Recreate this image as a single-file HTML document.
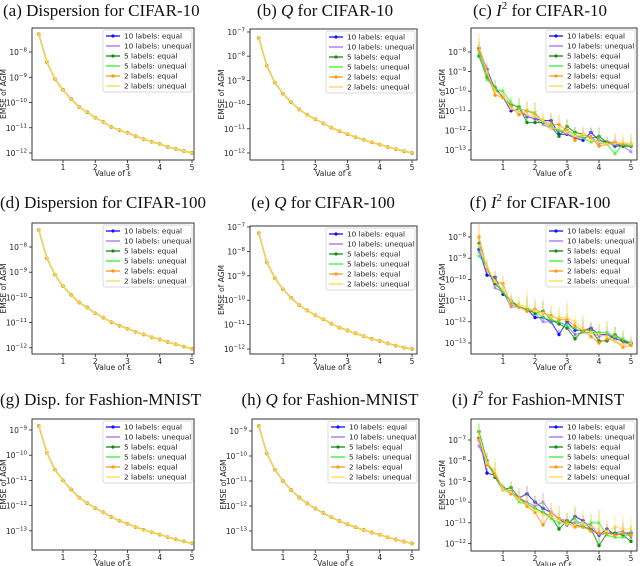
<!DOCTYPE html>
<html><head><meta charset="utf-8">
<style>
html,body{margin:0;padding:0;background:#fff;}
svg{display:block;}
.t{font-family:"Liberation Serif",serif;font-size:17px;fill:#111;}
.k{font-family:"DejaVu Sans","Liberation Sans",sans-serif;font-size:7.5px;fill:#222;}
.l{font-family:"DejaVu Sans","Liberation Sans",sans-serif;font-size:7.3px;fill:#222;}
</style></head>
<body>
<svg id="fig" width="640" height="566" viewBox="0 0 640 566"></svg>
<script>
// ---- data ----
const epsValues=[0.25,0.5,0.75,1,1.25,1.5,1.75,2,2.25,2.5,2.75,3,3.25,3.5,3.75,4,4.25,4.5,4.75,5];
const xTickLabels=[1,2,3,4,5];
const seriesNames=["10 labels: equal","10 labels: unequal","5 labels: equal","5 labels: unequal","2 labels: equal","2 labels: unequal"];
// log10 EMSE values
const dispCifar10=[-7.29,-8.4,-9.07,-9.5,-9.86,-10.18,-10.38,-10.6,-10.77,-10.97,-11.09,-11.2,-11.33,-11.45,-11.56,-11.64,-11.76,-11.84,-11.92,-12.0];
const qCifar10=[-7.25,-8.4,-9.1,-9.55,-9.9,-10.2,-10.42,-10.6,-10.78,-10.95,-11.1,-11.22,-11.35,-11.45,-11.56,-11.65,-11.75,-11.84,-11.92,-12.0];
const dispCifar100=[-7.33,-8.45,-9.1,-9.55,-9.9,-10.2,-10.4,-10.63,-10.8,-10.98,-11.12,-11.24,-11.36,-11.47,-11.58,-11.67,-11.77,-11.86,-11.95,-12.04];
const qCifar100=[-7.25,-8.45,-9.1,-9.55,-9.9,-10.2,-10.42,-10.62,-10.78,-10.96,-11.12,-11.24,-11.36,-11.47,-11.58,-11.67,-11.77,-11.86,-11.94,-12.0];
const dispFashion=[-8.84,-9.9,-10.58,-11.0,-11.36,-11.68,-11.9,-12.1,-12.27,-12.45,-12.6,-12.72,-12.85,-12.96,-13.06,-13.15,-13.25,-13.34,-13.42,-13.5];
const qFashion=[-8.8,-9.9,-10.55,-11.0,-11.36,-11.66,-11.9,-12.1,-12.28,-12.45,-12.6,-12.73,-12.85,-12.96,-13.06,-13.15,-13.25,-13.34,-13.42,-13.5];
const i2Cifar10Blue=[-7.8,-8.9,-9.9,-10.3,-11.0,-10.9,-11.3,-11.4,-11.5,-11.5,-12.2,-12.2,-12.4,-12.5,-12.1,-12.5,-12.6,-12.8,-12.8,-12.8];
const i2Cifar10Purple=[-7.9,-9.2,-9.9,-10.3,-10.9,-11.0,-11.3,-11.4,-11.7,-11.9,-12.0,-12.2,-12.3,-12.4,-12.3,-12.7,-12.6,-12.6,-12.8,-13.1];
const i2Cifar10Green=[-8.2,-9.3,-9.8,-10.3,-10.7,-10.8,-11.6,-11.6,-11.6,-11.8,-12.3,-11.8,-12.1,-12.2,-12.4,-12.3,-12.6,-12.7,-12.8,-12.8];
const i2Cifar10Lime=[-8.1,-9.4,-9.9,-10.0,-10.6,-10.9,-11.0,-11.1,-11.6,-11.8,-12.0,-12.0,-12.2,-12.4,-12.6,-12.5,-12.7,-13.2,-12.7,-12.8];
const i2Cifar10Orange=[-7.9,-9.1,-10.2,-10.3,-10.8,-11.2,-11.0,-11.2,-11.5,-11.7,-11.7,-12.0,-12.5,-12.2,-12.4,-12.8,-12.7,-12.6,-12.7,-12.7];
const i2Cifar10Gold=[-7.7,-9.0,-10.0,-10.2,-10.9,-11.0,-11.2,-11.3,-11.5,-11.9,-11.9,-12.1,-12.3,-12.2,-12.5,-12.6,-12.7,-12.7,-12.6,-12.7];
const i2Cifar100Blue=[-8.6,-9.8,-9.9,-10.7,-11.0,-11.3,-11.4,-11.8,-11.8,-12.0,-12.6,-12.0,-12.4,-12.4,-12.3,-12.6,-12.6,-12.8,-12.9,-13.0];
const i2Cifar100Purple=[-8.7,-9.4,-10.4,-10.6,-11.3,-11.3,-11.4,-11.6,-12.0,-12.0,-12.0,-12.2,-12.6,-12.5,-12.5,-12.7,-12.6,-12.7,-13.0,-13.0];
const i2Cifar100Green=[-8.3,-9.5,-10.2,-10.6,-11.0,-11.3,-11.4,-11.6,-11.5,-11.9,-12.1,-12.3,-12.8,-12.4,-12.4,-12.9,-12.9,-12.6,-12.9,-13.1];
const i2Cifar100Lime=[-8.9,-9.4,-10.1,-10.6,-11.1,-11.3,-11.4,-11.5,-11.8,-11.9,-12.0,-12.2,-12.3,-12.5,-12.5,-12.5,-12.5,-12.7,-12.8,-13.0];
const i2Cifar100Orange=[-8.0,-9.5,-10.1,-10.2,-11.2,-11.3,-11.5,-11.4,-11.6,-11.7,-11.9,-11.9,-12.2,-12.4,-12.7,-13.0,-12.8,-12.9,-13.2,-13.1];
const i2Cifar100Gold=[-8.4,-9.4,-10.1,-10.5,-11.0,-11.2,-11.3,-11.5,-11.6,-11.8,-11.8,-11.8,-12.0,-12.3,-12.5,-12.6,-12.7,-12.9,-13.1,-13.0];
const i2FashionBlue=[-6.9,-8.6,-8.7,-9.3,-9.5,-9.8,-9.6,-10.0,-10.3,-10.5,-10.8,-11.1,-10.7,-10.9,-11.3,-11.6,-11.3,-11.6,-11.5,-11.5];
const i2FashionPurple=[-7.3,-8.1,-8.7,-9.3,-9.5,-9.8,-10.0,-10.2,-10.0,-10.5,-10.8,-10.9,-11.0,-11.0,-11.1,-11.6,-11.5,-11.5,-11.4,-11.7];
const i2FashionGreen=[-6.6,-8.0,-8.8,-9.4,-9.3,-9.8,-10.1,-10.3,-10.5,-10.7,-11.3,-10.9,-11.1,-11.2,-11.3,-12.1,-11.5,-11.5,-11.6,-11.9];
const i2FashionLime=[-6.6,-8.1,-8.6,-9.3,-9.5,-10.0,-10.1,-10.3,-10.5,-10.8,-11.0,-11.0,-10.8,-11.2,-11.0,-11.0,-11.6,-11.7,-11.7,-11.5];
const i2FashionOrange=[-7.0,-8.2,-8.7,-9.4,-9.6,-9.8,-10.2,-10.5,-11.1,-10.5,-10.8,-11.0,-11.2,-11.2,-11.4,-11.5,-11.5,-11.6,-11.5,-11.6];
const i2FashionGold=[-6.8,-8.1,-8.5,-9.4,-9.5,-9.9,-10.1,-10.4,-10.6,-10.7,-10.9,-11.1,-11.1,-11.0,-11.2,-11.3,-11.4,-11.2,-11.3,-11.3];
const i2ErrCifar10=[0.5,0.4,0.4,0.2,0.3,0.5,0.4,0.5,0.3,0.5,0.4,0.4,0.3,0.3,0.4,0.5,0.3,0.4,0.3,0.4];
const i2ErrCifar100=[0.5,0.3,0.4,0.3,0.3,0.3,0.6,0.4,0.5,0.4,0.4,0.6,0.3,0.5,0.4,0.4,0.5,0.4,0.4,0.3];
const i2ErrFashion=[0.4,0.4,0.5,0.2,0.3,0.4,0.6,0.5,0.6,0.4,0.5,0.4,0.6,0.5,0.4,0.6,0.4,0.4,0.5,0.4];

const colors=["#1010ff","#a070f0","#138a13","#30f030","#ff9a10","#ffd84a"];
const NS="http://www.w3.org/2000/svg";
const fig=document.getElementById('fig');
function mk(tag,attrs,parent){const e=document.createElementNS(NS,tag);for(const k in attrs)e.setAttribute(k,attrs[k]);(parent||fig).appendChild(e);return e;}

const panels=[
 {id:'a',x0:32,x1:194,y0:28,y1:160,xa:63,xb:192,re:-8,ry:52,ppd:25.25,ticks:[-8,-9,-10,-11,-12],smooth:dispCifar10},
 {id:'b',x0:250,x1:417,y0:29,y1:160,xa:283,xb:412,re:-7,ry:32,ppd:24.2,ticks:[-7,-8,-9,-10,-11,-12],smooth:qCifar10},
 {id:'c',x0:471,x1:637,y0:28,y1:160,xa:503,xb:631,re:-8,ry:52,ppd:19.6,ticks:[-8,-9,-10,-11,-12,-13],series:[i2Cifar10Blue,i2Cifar10Purple,i2Cifar10Green,i2Cifar10Lime,i2Cifar10Orange,i2Cifar10Gold],err:i2ErrCifar10},
 {id:'d',x0:32,x1:194,y0:223,y1:354,xa:63,xb:192,re:-8,ry:247,ppd:25.2,ticks:[-8,-9,-10,-11,-12],smooth:dispCifar100},
 {id:'e',x0:250,x1:417,y0:226,y1:354,xa:283,xb:412,re:-7,ry:227,ppd:24.4,ticks:[-7,-8,-9,-10,-11,-12],smooth:qCifar100},
 {id:'f',x0:471,x1:637,y0:223,y1:354,xa:503,xb:631,re:-8,ry:237,ppd:21.2,ticks:[-8,-9,-10,-11,-12,-13],series:[i2Cifar100Blue,i2Cifar100Purple,i2Cifar100Green,i2Cifar100Lime,i2Cifar100Orange,i2Cifar100Gold],err:i2ErrCifar100},
 {id:'g',x0:32,x1:194,y0:419,y1:550,xa:63,xb:192,re:-9,ry:430,ppd:25.2,ticks:[-9,-10,-11,-12,-13],smooth:dispFashion},
 {id:'h',x0:252,x1:419,y0:419,y1:550,xa:283,xb:412,re:-9,ry:431,ppd:25,ticks:[-9,-10,-11,-12,-13],smooth:qFashion},
 {id:'i',x0:471,x1:637,y0:419,y1:551,xa:503,xb:631,re:-7,ry:440,ppd:20.7,ticks:[-7,-8,-9,-10,-11,-12],series:[i2FashionBlue,i2FashionPurple,i2FashionGreen,i2FashionLime,i2FashionOrange,i2FashionGold],err:i2ErrFashion}
];
const titles=[
 {x:3,y:16,anchor:'start',parts:[['(a) Dispersion for CIFAR-10','']]},
 {x:325,y:16,anchor:'middle',parts:[['(b) ',''],['Q','i'],[' for CIFAR-10','']]},
 {x:540,y:16,anchor:'middle',parts:[['(c) ',''],['I','i'],['2','s'],[' for CIFAR-10','']]},
 {x:0,y:208,anchor:'start',parts:[['(d) Dispersion for CIFAR-100','']]},
 {x:323,y:208,anchor:'middle',parts:[['(e) ',''],['Q','i'],[' for CIFAR-100','']]},
 {x:540,y:208,anchor:'middle',parts:[['(f) ',''],['I','i'],['2','s'],[' for CIFAR-100','']]},
 {x:0,y:405,anchor:'start',parts:[['(g) Disp. for Fashion-MNIST','']]},
 {x:330,y:405,anchor:'middle',parts:[['(h) ',''],['Q','i'],[' for Fashion-MNIST','']]},
 {x:538,y:405,anchor:'middle',parts:[['(i) ',''],['I','i'],['2','s'],[' for Fashion-MNIST','']]}
];

panels.forEach((p,pi)=>{
  const g=mk('g',{});
  
  
  const xs=v=>p.xa+(v-1)*(p.xb-p.xa)/4;
  const ys=v=>p.ry+(p.re-v)*p.ppd;
  const T=titles[pi];
  const t=mk('text',{x:T.x,y:T.y,'text-anchor':T.anchor,class:'t'},g);
  
  
  T.parts.forEach(pt=>{const s=mk('tspan',{},t);s.textContent=pt[0];
    if(pt[1]==='i')s.setAttribute('font-style','italic');
    if(pt[1]==='s'){s.setAttribute('font-size','11');s.setAttribute('dy','-7');}
    else if(pt[0].startsWith(' for')&&T.parts.some(q=>q[1]==='s')){s.setAttribute('dy','7');}
  });
  const box=mk('rect',{x:p.x0,y:p.y0,width:p.x1-p.x0,height:p.y1-p.y0,fill:'none',stroke:'#222','stroke-width':0.9},g);
  
  
  xTickLabels.forEach(v=>{
    const X=xs(v);
    mk('line',{x1:X,x2:X,y1:p.y1,y2:p.y1+3,stroke:'#222','stroke-width':0.8},g);
    const tl=mk('text',{x:X,y:p.y1+10,'text-anchor':'middle',class:'k'},g);
    tl.textContent=v;
    
    
  });
  const xl=mk('text',{x:(p.x0+p.x1)/2,y:p.y1+16,'text-anchor':'middle',class:'k'},g);
  xl.textContent='Value of \u03B5';
  
  
  p.ticks.forEach(e=>{
    const Y=ys(e);
    mk('line',{x1:p.x0-3,x2:p.x0,y1:Y,y2:Y,stroke:'#222','stroke-width':0.8},g);
    const tl=mk('text',{x:p.x0-5,y:Y+3,'text-anchor':'end',class:'k'},g);
    
    
    const a=mk('tspan',{},tl);a.textContent='10';
    const b=mk('tspan',{'font-size':'5.5',dy:'-3.5'},tl);b.textContent='\u2212'+(-e);
  });
  const yl=mk('text',{x:0,y:0,'text-anchor':'middle',class:'k',transform:`translate(${p.x0-26},${(p.y0+p.y1)/2}) rotate(-90)`},g);
  yl.textContent='EMSE of AGM';
  
  
  const list=p.series||seriesNames.map(()=>p.smooth);
  list.forEach((vals,si)=>{
    const c=colors[si];
    const sg=mk('g',{},g);
    
    
    if(p.err){
      vals.forEach((v,k)=>{
        const X=xs(epsValues[k]);
        mk('line',{x1:X,x2:X,y1:ys(v),y2:ys(v+p.err[k]*(0.6+0.15*si)),stroke:c,'stroke-width':0.9,opacity:0.55},sg);
      });
    }
    const d=vals.map((v,k)=>(k?'L':'M')+xs(epsValues[k]).toFixed(1)+','+ys(v).toFixed(1)).join('');
    mk('path',{d:d,fill:'none',stroke:c,'stroke-width':p.err?1.1:1.2,opacity:p.err?0.8:1},sg);
    vals.forEach((v,k)=>{
      const X=xs(epsValues[k]),Y=ys(v);
      if(si%2===0)mk('circle',{cx:X,cy:Y,r:1.7,fill:c},sg);
      else mk('path',{d:`M${X-1.4},${Y-1.4}L${X+1.4},${Y+1.4}M${X-1.4},${Y+1.4}L${X+1.4},${Y-1.4}`,stroke:c,'stroke-width':0.8},sg);
    });
  });
  const lw=89,lh=62,lx=p.x1-2-lw,ly=p.y0+2;
  const lg=mk('g',{},g);
  
  
  mk('rect',{x:lx,y:ly,width:lw,height:lh,rx:2,fill:'#fff','fill-opacity':0.85,stroke:'#ccc','stroke-width':0.7},lg);
  seriesNames.forEach((n,si)=>{
    const Y=ly+6+si*10;
    const le=mk('g',{},lg);
    
    
    mk('line',{x1:lx+3,x2:lx+17,y1:Y,y2:Y,stroke:colors[si],'stroke-width':1.3},le);
    if(si%2===0)mk('circle',{cx:lx+10,cy:Y,r:1.6,fill:colors[si]},le);
    const tx=mk('text',{x:lx+21,y:Y+2.6,class:'l'},le);tx.textContent=n;
  });
});
</script>
</body></html>
